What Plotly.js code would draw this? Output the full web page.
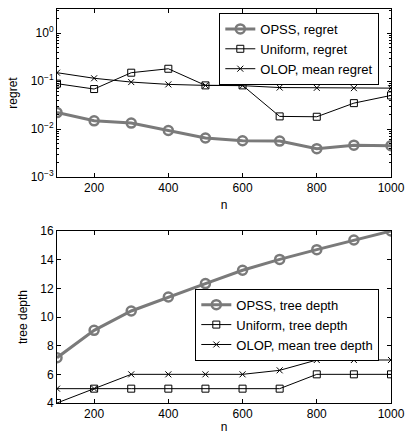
<!DOCTYPE html>
<html>
<head>
<meta charset="utf-8">
<script src="https://cdn.plot.ly/plotly-3.0.1.min.js"></script>
<style>html,body{margin:0;padding:0;background:#fff;}#chart{width:405px;height:434px;}</style>
</head>
<body>
<div id="chart"></div>
<script>
var n = [100, 200, 300, 400, 500, 600, 700, 800, 900, 1000];

var opssRegret    = [0.022, 0.0148, 0.0133, 0.0093, 0.0065, 0.0057, 0.0056, 0.0039, 0.0046, 0.0045];
var uniformRegret = [0.088, 0.068, 0.149, 0.18, 0.081, 0.081, 0.0183, 0.018, 0.0346, 0.050];
var olopRegret    = [0.149, 0.114, 0.095, 0.085, 0.081, 0.080, 0.073, 0.072, 0.071, 0.071];

var opssDepth    = [7.16, 9.07, 10.42, 11.4, 12.33, 13.26, 14.02, 14.7, 15.37, 16.0];
var uniformDepth = [4, 5, 5, 5, 5, 5, 5, 6, 6, 6];
var olopDepth    = [5, 5, 6, 6, 6, 6, 6.28, 7, 7, 7];

var regretTickVals = [0.001, 0.01, 0.1, 1];
var regretTickText = ['10<sup>−3</sup>', '10<sup>−2</sup>', '10<sup>−1</sup>', '10<sup>0</sup>'];
var regretMinorTicks = [0.002, 0.003, 0.004, 0.005, 0.006, 0.007, 0.008, 0.009,
                        0.02, 0.03, 0.04, 0.05, 0.06, 0.07, 0.08, 0.09,
                        0.2, 0.3, 0.4, 0.5, 0.6, 0.7, 0.8, 0.9, 2, 3];
var xTickVals = [200, 400, 600, 800, 1000];
var depthTickVals = [4, 6, 8, 10, 12, 14, 16];

var gray = '#7a7a7a';
var F = 'Liberation Sans, Arial, sans-serif';

function opssStyle(name, xa, ya, leg) {
  return {name: name, xaxis: xa, yaxis: ya, legend: leg, mode: 'lines+markers',
    line: {color: gray, width: 3},
    marker: {symbol: 'circle-open', size: 9, color: gray, line: {width: 2.5, color: gray}}};
}
function uniStyle(name, xa, ya, leg) {
  return {name: name, xaxis: xa, yaxis: ya, legend: leg, mode: 'lines+markers',
    line: {color: '#000', width: 1},
    marker: {symbol: 'square-open', size: 7, color: '#000', line: {width: 1, color: '#000'}}};
}
function olopStyle(name, xa, ya, leg) {
  return {name: name, xaxis: xa, yaxis: ya, legend: leg, mode: 'lines+markers',
    line: {color: '#000', width: 1},
    marker: {symbol: 'x-thin-open', size: 6, color: '#000', line: {width: 1, color: '#000'}}};
}

var traces = [
  Object.assign(opssStyle('OPSS, regret', 'x', 'y', 'legend'), {x: n, y: opssRegret}),
  Object.assign(uniStyle('Uniform, regret', 'x', 'y', 'legend'), {x: n, y: uniformRegret}),
  Object.assign(olopStyle('OLOP, mean regret', 'x', 'y', 'legend'), {x: n, y: olopRegret}),
  Object.assign(opssStyle('OPSS, tree depth', 'x2', 'y2', 'legend2'), {x: n, y: opssDepth}),
  Object.assign(uniStyle('Uniform, tree depth', 'x2', 'y2', 'legend2'), {x: n, y: uniformDepth}),
  Object.assign(olopStyle('OLOP, mean tree depth', 'x2', 'y2', 'legend2'), {x: n, y: olopDepth})
];

function xAxis(anchor) {
  return {anchor: anchor, domain: [0, 1], range: [100, 1000], tickvals: xTickVals,
    ticks: 'inside', ticklen: 4, tickcolor: '#000', mirror: 'allticks', showline: true,
    linecolor: '#000', linewidth: 1, showgrid: false, zeroline: false,
    tickfont: {family: F, size: 12, color: '#000'},
    title: {text: 'n', font: {family: F, size: 12, color: '#000'}, standoff: 6}};
}

var layout = {
  width: 405, height: 434,
  margin: {l: 57, r: 14, t: 9, b: 31},
  paper_bgcolor: '#fff', plot_bgcolor: '#fff',
  font: {family: F, size: 12, color: '#000'},
  xaxis: xAxis('y'),
  yaxis: {domain: [0.5736, 1], anchor: 'x', type: 'log', range: [-3, 0.5],
    tickvals: regretTickVals, ticktext: regretTickText,
    ticks: 'inside', ticklen: 4, tickcolor: '#000', mirror: 'allticks', showline: true,
    linecolor: '#000', linewidth: 1, showgrid: false, zeroline: false,
    minor: {ticks: 'inside', ticklen: 2, tickcolor: '#000', showgrid: false, tickmode: 'array', tickvals: regretMinorTicks},
    tickfont: {family: F, size: 12, color: '#000'},
    title: {text: 'regret', font: {family: F, size: 12, color: '#000'}, standoff: 10}},
  xaxis2: xAxis('y2'),
  yaxis2: {domain: [0, 0.4365], anchor: 'x2', range: [4, 16], tickvals: depthTickVals,
    ticks: 'inside', ticklen: 4, tickcolor: '#000', mirror: 'allticks', showline: true,
    linecolor: '#000', linewidth: 1, showgrid: false, zeroline: false,
    tickfont: {family: F, size: 12, color: '#000'},
    title: {text: 'tree depth', font: {family: F, size: 12, color: '#000'}, standoff: 10}},
  legend: {x: 0.965, y: 0.99, xanchor: 'right', yanchor: 'top', xref: 'paper', yref: 'paper',
    bgcolor: '#fff', bordercolor: '#000', borderwidth: 1,
    font: {family: F, size: 13, color: '#000'}, tracegroupgap: 0, itemwidth: 30},
  legend2: {x: 0.965, y: 0.29, xanchor: 'right', yanchor: 'top', xref: 'paper', yref: 'paper',
    bgcolor: '#fff', bordercolor: '#000', borderwidth: 1,
    font: {family: F, size: 13, color: '#000'}, tracegroupgap: 0, itemwidth: 30},
  showlegend: true
};

Plotly.newPlot('chart', traces, layout, {displayModeBar: false, staticPlot: true});
</script>
</body>
</html>
